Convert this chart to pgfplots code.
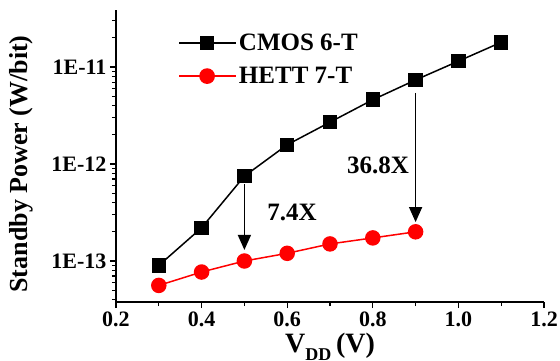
\documentclass[border=0pt]{standalone}
\usepackage{fontspec}
\setmainfont{Liberation Serif}
\usepackage{pgfplots}
\pgfplotsset{compat=1.18}
\usetikzlibrary{arrows.meta}

\begin{document}
\bfseries
\begin{tikzpicture}
\begin{axis}[
  scale only axis, width=428pt, height=292pt,
  at={(0pt,0pt)}, anchor=south west,
  ymode=log, xmin=0.2, xmax=1.2, ymin=3.776e-14, ymax=3.873e-11,
  axis lines*=left,
  axis line style={line width=1.3pt},
  tick align=outside, major tick length=6pt, minor tick length=4pt,
  every tick/.style={line width=1.1pt, black},
  xtick={0.2,0.4,0.6,0.8,1.0,1.2},
  xticklabels={0.2,0.4,0.6,0.8,1.0,1.2},
  minor xtick={0.3,0.5,0.7,0.9,1.1},
  ytick={1e-13,1e-12,1e-11},
  yticklabels={1E-13,1E-12,1E-11},
  minor ytick={4e-14,5e-14,6e-14,7e-14,8e-14,9e-14,2e-13,3e-13,4e-13,5e-13,6e-13,7e-13,8e-13,9e-13,2e-12,3e-12,4e-12,5e-12,6e-12,7e-12,8e-12,9e-12,2e-11,3e-11},
  ticklabel style={font=\fontsize{22}{24}\selectfont\bfseries},
  ylabel={Standby Power (W/bit)},
  ylabel style={font=\fontsize{26}{28}\selectfont\bfseries, at={(axis description cs:-0.222,0.473)}, anchor=center},
  xlabel={V\raisebox{-8pt}{\fontsize{18}{18}\selectfont DD}\,(V)},
  xlabel style={font=\fontsize{28}{30}\selectfont\bfseries, at={(axis description cs:0.5,-0.105)}, anchor=north, inner sep=0pt},
  legend style={at={(axis description cs:0.145,0.925)}, anchor=north west, draw=none, fill=none,
    font=\fontsize{25}{27}\selectfont\bfseries, row sep=11pt, inner sep=0pt, cells={anchor=west}},
  legend image code/.code={\draw[line width=1.7pt, mark repeat=2,mark phase=2] plot coordinates {(0pt,0pt) (28pt,0pt) (57pt,0pt)};},
  clip=false,
]
\addplot[black, line width=1.5pt, mark=square*, mark size=6.5pt, mark options={solid, fill=black}] coordinates {
  (0.3,9.0e-14) (0.4,2.2e-13) (0.5,7.5e-13) (0.6,1.58e-12) (0.7,2.7e-12) (0.8,4.6e-12) (0.9,7.36e-12) (1.0,1.15e-11) (1.1,1.8e-11)
};
\addlegendentry{CMOS 6-T}
\addplot[red, line width=1.5pt, mark=*, mark size=7pt, mark options={solid, fill=red}] coordinates {
  (0.3,5.6e-14) (0.4,7.7e-14) (0.5,1.0e-13) (0.6,1.2e-13) (0.7,1.5e-13) (0.8,1.73e-13) (0.9,2.0e-13)
};
\addlegendentry{HETT 7-T}
\draw[line width=1.5pt, -{Triangle[length=15pt,width=13pt]}] (axis cs:0.5,6.2e-13) -- (axis cs:0.5,1.3e-13);
\draw[line width=1.5pt, -{Triangle[length=15pt,width=13pt]}] (axis cs:0.9,5.4e-12) -- (axis cs:0.9,2.52e-13);
\node[font=\fontsize{25}{27}\selectfont\bfseries] at (axis cs:0.611,3.2e-13) {7.4X};
\node[font=\fontsize{25}{27}\selectfont\bfseries] at (axis cs:0.812,9.8e-13) {36.8X};
\end{axis}
\pgfresetboundingbox
\path[use as bounding box] (-116pt,-58pt) rectangle (444pt,302pt);
\end{tikzpicture}
\end{document}
